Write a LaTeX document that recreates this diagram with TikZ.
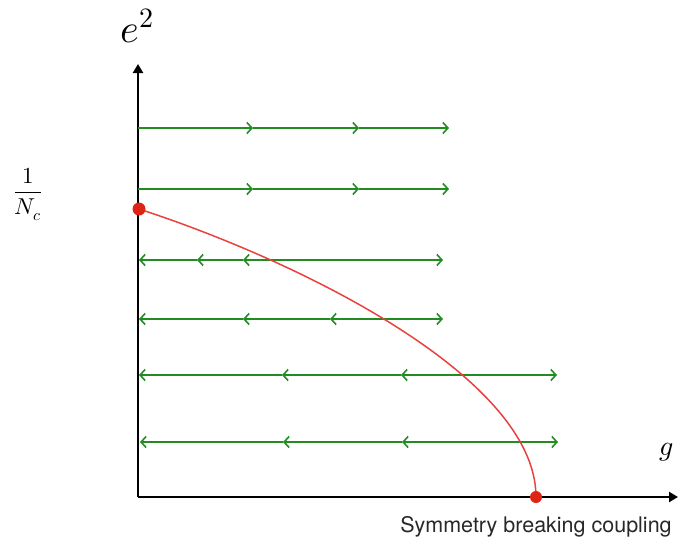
\documentclass[tikz,border=0pt]{standalone}
\usepackage{fontspec}
\usepackage{unicode-math}
\setsansfont{TeX Gyre Heros}
\definecolor{flowgreen}{RGB}{34, 139, 34}
\definecolor{critred}{RGB}{232, 66, 62}
\definecolor{fixedred}{RGB}{222, 36, 20}
\definecolor{caption}{RGB}{40, 40, 40}
\usetikzlibrary{arrows.meta}
\tikzset{
  axis/.style={line width=2.6pt, black, -{Triangle[length=9pt,width=10pt]}},
  rgline/.style={flowgreen, line width=1.8pt},
  fixedpt/.style={fixedred},
}

\begin{document}
\begin{tikzpicture}[x=1pt, y=-1pt, >={Straight Barb[length=5pt,width=11pt,line width=1.6pt]}]
    \useasboundingbox (0,0) rectangle (678,544);
    \draw[axis] (138,497) -- (138,64);
    \draw[axis] (138,497) -- (678,497);

    \foreach \y in {128,189} {
        \draw[rgline,->] (138,\y) -- (253,\y);
        \draw[rgline,->] (253,\y) -- (359,\y);
        \draw[rgline,->] (359,\y) -- (449,\y);
    }
    \draw[rgline,->]  (197,260) -- (139,260);
    \draw[rgline,->]  (243,260) -- (197,260);
    \draw[rgline,<->] (243,260) -- (443,260);
    \draw[rgline,->]  (243,319) -- (139,319);
    \draw[rgline,->]  (330,319) -- (243,319);
    \draw[rgline,<->] (330,319) -- (443,319);
    \draw[rgline,->]  (282,375) -- (139,375);
    \draw[rgline,->]  (401,375) -- (282,375);
    \draw[rgline,<->] (401,375) -- (557,375);
    \draw[rgline,->]  (283,442) -- (140,442);
    \draw[rgline,->]  (402,442) -- (283,442);
    \draw[rgline,<->] (402,442) -- (558,442);

    \draw[critred, line width=1.5pt] (139,209) .. controls (299,261) and (536,377) .. (536,497);
    \fill[fixedpt] (139,209) circle (6.5);
    \fill[fixedpt] (536,497) circle (6);

    \node[font=\fontsize{40}{46}\selectfont] (e2) at (137,26) {$e^2$};
    \node[font=\fontsize{23}{27}\selectfont] (nc) at (28,194) {$\displaystyle\frac{1}{N_c}$};
    \node[font=\fontsize{28}{32}\selectfont] (g) at (667,452) {$g$};
    \node[font=\sffamily\fontsize{21.5}{25}\selectfont, text=caption] (coupling) at (536,527) {Symmetry breaking coupling};
\end{tikzpicture}
\end{document}
